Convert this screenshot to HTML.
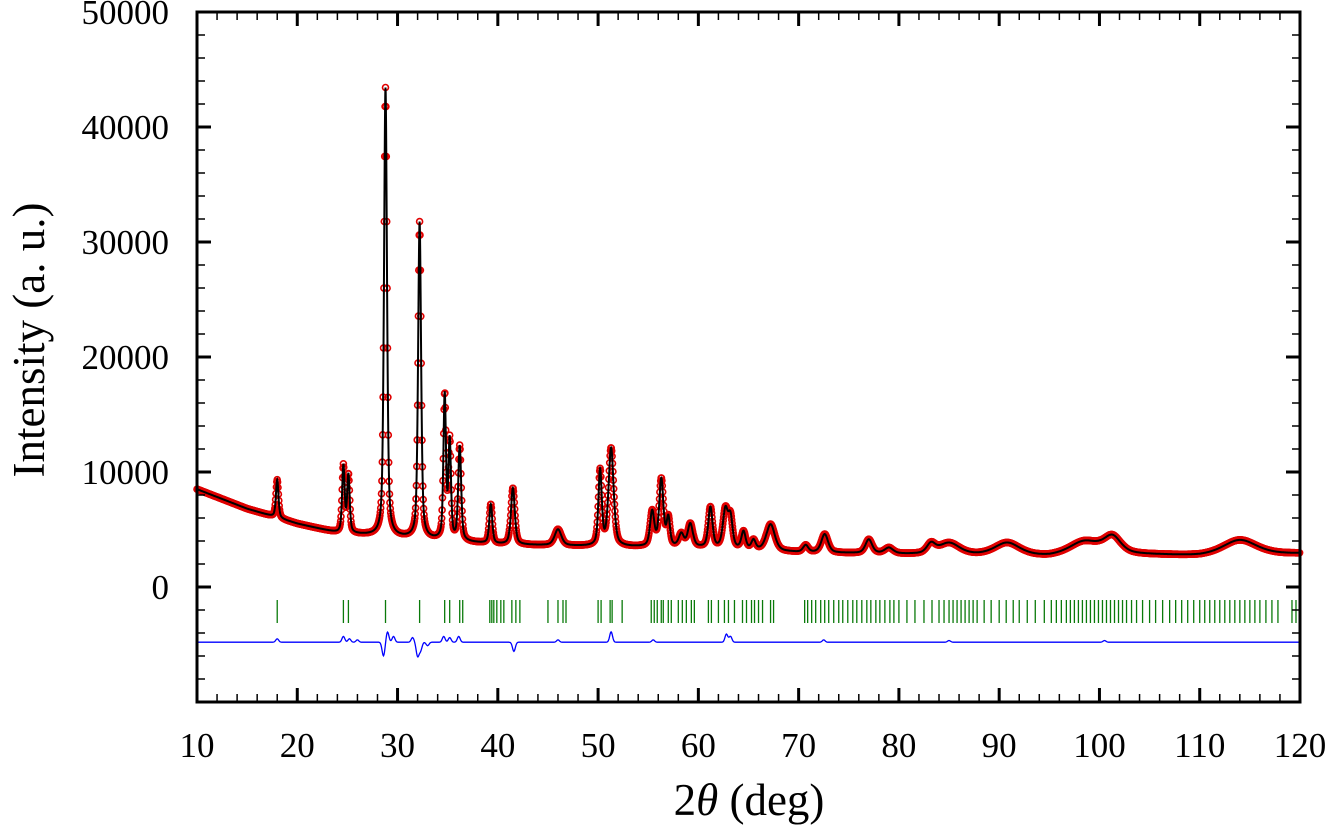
<!DOCTYPE html>
<html><head><meta charset="utf-8"><style>
html,body{margin:0;padding:0;background:#fff;width:1328px;height:828px;overflow:hidden}
text{font-family:"Liberation Serif",serif;fill:#000}
</style></head><body>
<svg id="chart" width="1328" height="828" xmlns="http://www.w3.org/2000/svg">
<g id="marks"></g>
<g id="axes"></g>
<text transform="translate(44,340) rotate(-90)" text-anchor="middle" font-size="45">Intensity (a. u.)</text>
<text x="749" y="815" text-anchor="middle" font-size="45">2<tspan font-style="italic">θ</tspan> (deg)</text>
</svg>
<script>
// background knots [2θ], [intensity]
const bgX=[10,15,20,24,30,40,50,60,70,80,95,100,110,120];
const bgY=[8500,6800,5500,4700,4300,3700,3500,3400,3000,2850,2650,2900,2700,2900];
// peaks
const peakPos=[18.0,24.6,25.1,28.8,32.2,34.7,35.2,36.2,39.3,41.5,46.0,50.2,51.3,55.4,56.3,57.0,58.3,59.2,61.2,62.7,63.2,64.5,65.5,67.2,70.7,72.6,77.0,79.0,83.2,85.0,90.8,98.5,101.3,114.0];
const peakHeight=[3300,5800,5000,39000,27500,12500,8500,8200,3400,4900,1400,6500,8500,3000,5800,2400,1100,2000,3500,3300,2500,1500,800,2300,600,1600,1200,500,800,1000,1100,1100,1400,1300];
const peakWidth=[0.3,0.3,0.3,0.35,0.35,0.3,0.3,0.35,0.35,0.45,0.8,0.4,0.6,0.5,0.5,0.4,0.6,0.6,0.5,0.6,0.5,0.5,0.5,1.0,0.6,0.8,0.8,1.0,1.0,2.5,3.0,3.5,2.0,4.0];
// reflection tick positions
const tickPos=[18.0,24.6,25.1,28.8,32.2,34.7,35.2,36.2,36.5,39.2,39.4,39.6,39.9,40.3,40.6,41.4,41.8,42.2,45.0,46.0,46.5,46.8,50.0,50.3,51.2,51.4,52.4,55.3,55.6,55.9,56.3,56.5,57.0,57.3,58.0,58.4,58.8,59.3,59.6,61.0,61.3,62.0,62.6,63.0,63.6,64.4,64.8,65.3,65.6,66.0,66.4,67.2,67.5,70.6,70.9,71.3,71.7,72.2,72.6,73.0,73.5,74.0,74.4,74.9,75.4,75.8,76.3,76.8,77.2,77.7,78.1,78.6,79.1,79.5,80.0,80.8,81.6,82.5,83.3,84.0,84.5,85.0,85.4,85.8,86.2,86.6,87.0,87.4,87.8,88.5,89.2,90.0,90.7,91.4,92.0,92.8,93.6,94.5,95.2,95.7,96.2,96.7,97.1,97.5,97.9,98.3,98.7,99.1,99.5,99.9,100.3,100.7,101.1,101.5,101.9,102.3,102.7,103.2,103.7,104.3,105.0,105.6,106.3,107.0,107.6,108.2,108.8,109.4,110.0,110.5,111.0,111.5,112.0,112.5,113.0,113.5,114.0,114.5,115.0,115.5,116.0,116.6,117.2,117.8,119.2,119.6];
// difference features [pos],[amp]
const diffPos=[18.0,24.6,25.2,26.0,28.6,29.0,29.6,31.5,32.0,32.3,33.0,34.6,35.2,36.1,41.6,46.0,51.3,55.5,62.8,63.2,72.5,85.0,100.5];
const diffAmp=[300,500,300,200,-1200,900,500,400,-1200,-700,-300,500,400,500,-800,200,900,200,700,500,200,150,150];
const diffBase=-4800;

const X0=197,X1=1300,Y0=12,Y1=702;
const xs=v=>X0+(v-10)/(110)*(X1-X0);
const ys=v=>Y1-(v+10000)/60000*(Y1-Y0);
const NS="http://www.w3.org/2000/svg";
function mk(t,a,p){const e=document.createElementNS(NS,t);for(const k in a)e.setAttribute(k,a[k]);p.appendChild(e);return e;}
function bg(x){for(let i=0;i<bgX.length-1;i++){if(x<=bgX[i+1]){const t=(x-bgX[i])/(bgX[i+1]-bgX[i]);return bgY[i]+t*(bgY[i+1]-bgY[i]);}}return bgY[bgY.length-1];}
function calc(x){let s=bg(x);for(let i=0;i<peakPos.length;i++){const d=(x-peakPos[i])/(peakWidth[i]/2);s+=peakHeight[i]*(0.5/(1+d*d)+0.5*Math.exp(-0.693*d*d));}return s;}
function diff(x){let s=diffBase;for(let i=0;i<diffPos.length;i++){const d=(x-diffPos[i])/0.2;s+=diffAmp[i]*Math.exp(-d*d);}return s;}
const marks=document.getElementById('marks');
let obs=mk('g',{},marks);


for(let x=10;x<=120;x+=0.04){mk('circle',{cx:xs(x).toFixed(1),cy:ys(calc(x)).toFixed(1),r:3,fill:'none',stroke:'#e00000','stroke-width':1.6},obs);}
let d='';for(let x=10;x<=120;x+=0.02){d+=(d?'L':'M')+xs(x).toFixed(1)+' '+ys(calc(x)).toFixed(1);}
const cl=mk('path',{d:d,fill:'none',stroke:'#000','stroke-width':2},marks);


let tg=mk('g',{stroke:'#0a7a0a','stroke-width':1.3},marks);


tickPos.forEach(p=>{mk('line',{x1:xs(p),x2:xs(p),y1:600,y2:623},tg);});
let dd='';for(let x=10;x<=120;x+=0.05){dd+=(dd?'L':'M')+xs(x).toFixed(1)+' '+ys(diff(x)).toFixed(1);}
const dl=mk('path',{d:dd,fill:'none',stroke:'#0000ff','stroke-width':1.3},marks);


const ax=document.getElementById('axes');
const fr=mk('rect',{x:X0,y:Y0,width:X1-X0,height:Y1-Y0,fill:'none',stroke:'#000','stroke-width':3},ax);


for(let v=10;v<=120;v+=2){const maj=v%10===0,L=maj?14:8,x=xs(v);
 mk('line',{x1:x,x2:x,y1:Y1,y2:Y1-L,stroke:'#000','stroke-width':maj?3:1.5},ax);
 mk('line',{x1:x,x2:x,y1:Y0,y2:Y0+L,stroke:'#000','stroke-width':maj?3:1.5},ax);
 if(maj){const t=mk('text',{x:x,y:757,'text-anchor':'middle','font-size':35},ax);t.textContent=v;
 
 }}
for(let v=-10000;v<=50000;v+=2000){const maj=v%10000===0,L=maj?14:8,y=ys(v);
 mk('line',{x1:X0,x2:X0+L,y1:y,y2:y,stroke:'#000','stroke-width':maj?3:1.5},ax);
 mk('line',{x1:X1,x2:X1-L,y1:y,y2:y,stroke:'#000','stroke-width':maj?3:1.5},ax);
 if(maj&&v>=0){const t=mk('text',{x:169,y:y+12,'text-anchor':'end','font-size':35},ax);t.textContent=v;
 
 }}
</script>
</body></html>
